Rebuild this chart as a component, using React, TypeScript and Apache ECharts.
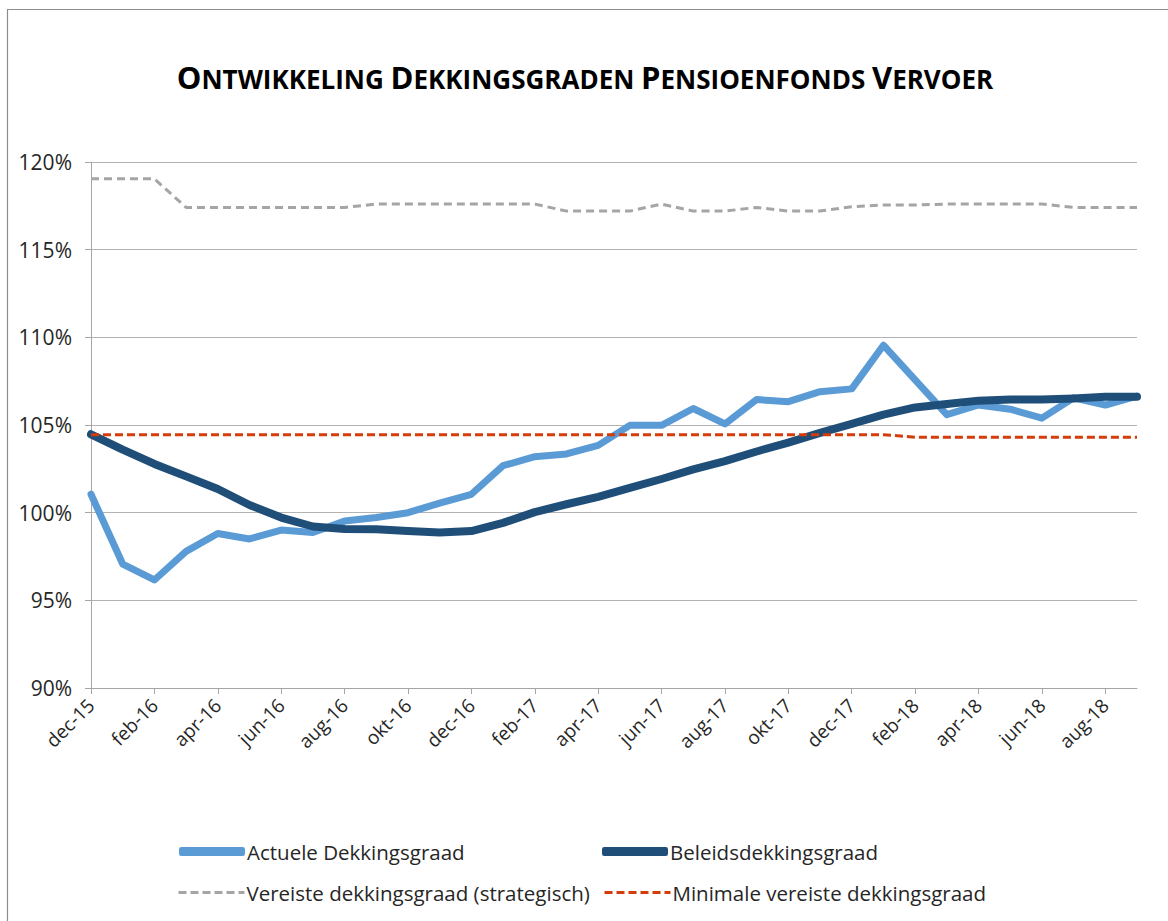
import React, { useEffect, useRef } from "react";
import * as echarts from "echarts";

const categories = [
  "dec-15", "jan-16", "feb-16", "mrt-16", "apr-16", "mei-16", "jun-16", "jul-16", "aug-16", "sep-16", "okt-16", "nov-16",
  "dec-16", "jan-17", "feb-17", "mrt-17", "apr-17", "mei-17", "jun-17", "jul-17", "aug-17", "sep-17", "okt-17", "nov-17",
  "dec-17", "jan-18", "feb-18", "mrt-18", "apr-18", "mei-18", "jun-18", "jul-18", "aug-18", "sep-18",
];

const actueleDekkingsgraad = [
  101.05, 97.07, 96.16, 97.79, 98.81, 98.5, 99.01, 98.87, 99.52, 99.72, 100.0, 100.54,
  101.05, 102.68, 103.19, 103.35, 103.84, 104.98, 104.98, 105.94, 105.06, 106.45, 106.33, 106.9,
  107.06, 109.55, 107.57, 105.59, 106.14, 105.9, 105.39, 106.55, 106.14, 106.65,
];

const beleidsdekkingsgraad = [
  104.47, 103.6, 102.78, 102.07, 101.35, 100.44, 99.72, 99.21, 99.07, 99.05, 98.95, 98.87,
  98.95, 99.42, 100.03, 100.48, 100.9, 101.41, 101.92, 102.47, 102.94, 103.49, 104.0, 104.55,
  105.06, 105.59, 106.0, 106.2, 106.39, 106.45, 106.45, 106.51, 106.61, 106.61,
];

const vereisteStrategisch = [
  119.04, 119.04, 119.04, 117.41, 117.41, 117.41, 117.41, 117.41, 117.41, 117.6, 117.6, 117.6,
  117.6, 117.6, 117.6, 117.2, 117.2, 117.2, 117.6, 117.2, 117.2, 117.41, 117.2, 117.2,
  117.45, 117.55, 117.55, 117.6, 117.6, 117.6, 117.6, 117.41, 117.41, 117.41,
];

const minimaleVereiste = [
  104.45, 104.45, 104.45, 104.45, 104.45, 104.45, 104.45, 104.45, 104.45, 104.45, 104.45, 104.45,
  104.45, 104.45, 104.45, 104.45, 104.45, 104.45, 104.45, 104.45, 104.45, 104.45, 104.45, 104.45,
  104.45, 104.45, 104.3, 104.3, 104.3, 104.3, 104.3, 104.3, 104.3, 104.3,
];

const seriesNames = [
  "Actuele Dekkingsgraad",
  "Beleidsdekkingsgraad",
  "Vereiste dekkingsgraad (strategisch)",
  "Minimale vereiste dekkingsgraad",
];

const yTicks = { min: 90, max: 120, interval: 5 };

const FONT = "'Open Sans', sans-serif";
const TEXT = "'Open Sans', sans-serif";
const C_LIGHT = "#5B9BD5";
const C_DARK = "#1F4E79";
const C_GRAY = "#A5A5A5";
const C_RED = "#D43C0A";

export default function App() {
  const ref = useRef<HTMLDivElement>(null);

  useEffect(() => {
    if (!ref.current) return;
    const chart = echarts.init(ref.current, undefined, { renderer: "svg" });
    const legendText = { color: "#262626", fontSize: 20.5, fontFamily: TEXT, padding: [0, 0, 0, -3] };
    chart.setOption({
      animation: false,
      backgroundColor: "#ffffff",
      title: {
        left: 580,
        top: 54,
        textAlign: "center",
        text: "{a|O}{b|NTWIKKELING} {a|D}{b|EKKINGSGRADEN} {a|P}{b|ENSIOENFONDS} {a|V}{b|ERVOER}",
        textStyle: {
          fontFamily: FONT,
          fontWeight: "bold",
          fontSize: 26,
          color: "#000",
          rich: {
            a: { fontFamily: FONT, fontWeight: "bold", fontSize: 31, lineHeight: 33, verticalAlign: "bottom", color: "#000" },
            b: { fontFamily: FONT, fontWeight: "bold", fontSize: 26, lineHeight: 33, verticalAlign: "bottom", color: "#000" },
          },
        },
      },
      graphic: [
        {
          type: "rect",
          shape: { x: 7.5, y: 9.5, width: 1300, height: 1100 },
          style: { fill: "none", stroke: "#8C8C8C", lineWidth: 1.2 },
          silent: true,
        },
      ],
      grid: { left: 91, right: 31, top: 162, bottom: 233, containLabel: false },
      legend: [
        {
          data: [{ name: seriesNames[0], icon: "roundRect" }],
          left: 174, top: 836, itemWidth: 66, itemHeight: 9,
          textStyle: legendText,
        },
        {
          data: [{ name: seriesNames[1], icon: "roundRect" }],
          left: 597, top: 836, itemWidth: 66, itemHeight: 9,
          textStyle: legendText,
        },
        {
          data: [{ name: seriesNames[2] }],
          left: 172, top: 877, itemWidth: 66, itemHeight: 9,
          itemStyle: { opacity: 0 },
          lineStyle: { width: 3, type: [8, 4] },
          textStyle: legendText,
        },
        {
          data: [{ name: seriesNames[3] }],
          left: 598, top: 877, itemWidth: 66, itemHeight: 9,
          itemStyle: { opacity: 0 },
          lineStyle: { width: 3, type: [8, 4] },
          textStyle: legendText,
        },
      ],
      xAxis: {
        type: "category",
        data: categories,
        boundaryGap: false,
        axisLine: { lineStyle: { color: "#A6A6A6", width: 1 } },
        axisTick: { interval: 1, length: 6, lineStyle: { color: "#A6A6A6" } },
        axisLabel: {
          interval: 1,
          rotate: 45,
          fontSize: 19,
          fontFamily: TEXT,
          color: "#262626",
          margin: 14,
        },
        splitLine: { show: false },
      },
      yAxis: {
        type: "value",
        min: yTicks.min,
        max: yTicks.max,
        interval: yTicks.interval,
        axisLine: { show: true, lineStyle: { color: "#A6A6A6", width: 1 } },
        axisTick: { show: true, length: 6, lineStyle: { color: "#A6A6A6" } },
        axisLabel: {
          formatter: "{value}%",
          fontSize: 21,
          fontFamily: TEXT,
          color: "#262626",
          margin: 19,
        },
        splitLine: { lineStyle: { color: "#B3B3B3", width: 1 } },
      },
      series: [
        {
          name: seriesNames[0],
          type: "line",
          data: actueleDekkingsgraad,
          symbol: "none",
          itemStyle: { color: C_LIGHT },
          lineStyle: { color: C_LIGHT, width: 7, join: "round", cap: "round" },
        },
        {
          name: seriesNames[1],
          type: "line",
          data: beleidsdekkingsgraad,
          symbol: "none",
          itemStyle: { color: C_DARK },
          lineStyle: { color: C_DARK, width: 8, join: "round", cap: "round" },
        },
        {
          name: seriesNames[2],
          type: "line",
          data: vereisteStrategisch,
          symbol: "none",
          itemStyle: { color: C_GRAY },
          lineStyle: { color: C_GRAY, width: 3, type: [8, 5] },
        },
        {
          name: seriesNames[3],
          type: "line",
          data: minimaleVereiste,
          symbol: "none",
          itemStyle: { color: C_RED },
          lineStyle: { color: C_RED, width: 3, type: [8, 4] },
        },
      ],
    });
    return () => chart.dispose();
  }, []);

  return (
    <div
      ref={ref}
      style={{ position: "absolute", left: 0, top: 0, width: 1168, height: 921 }}
    />
  );
}
